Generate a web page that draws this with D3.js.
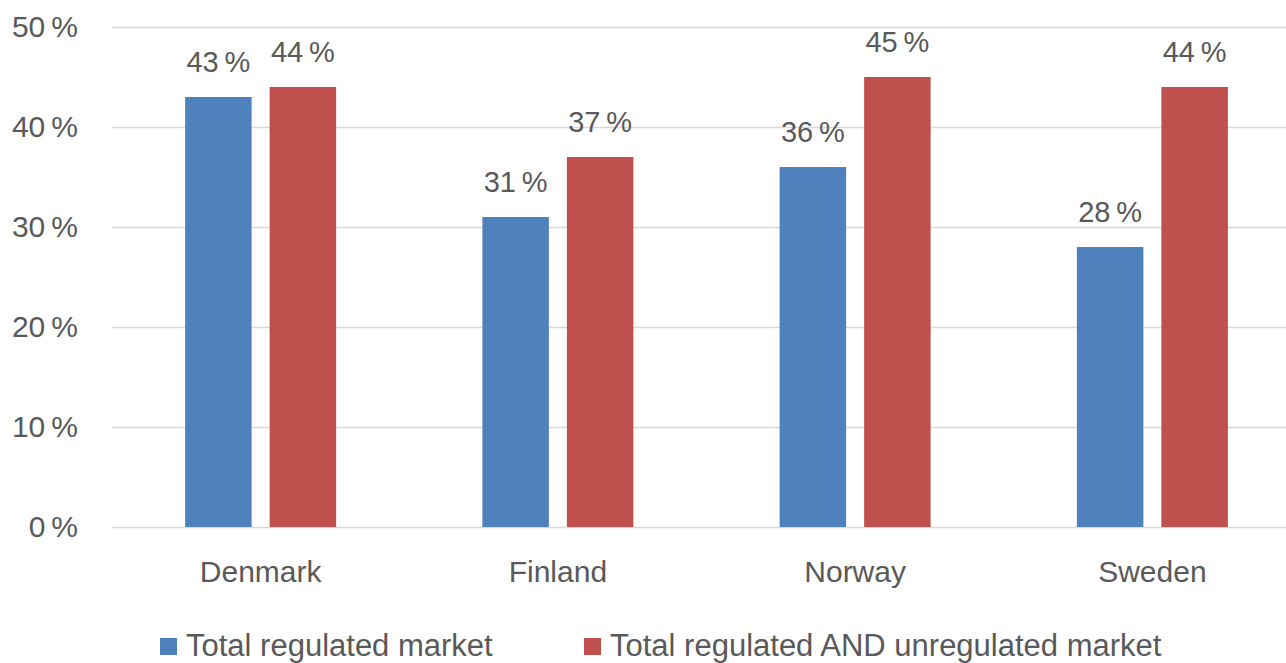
<!DOCTYPE html>
<html>
<head>
<meta charset="utf-8">
<script src="https://cdn.jsdelivr.net/npm/d3@7"></script>
<style>
  body { margin: 0; background: #fff; }
  text { font-family: "Liberation Sans", Arial, sans-serif; fill: #595959; }
</style>
</head>
<body>
<script>
const categories = ['Denmark', 'Finland', 'Norway', 'Sweden'];
const seriesNames = ['Total regulated market', 'Total regulated AND unregulated market'];
const regulated = [43, 31, 36, 28];
const regulatedAndUnregulated = [44, 37, 45, 44];
const yTicks = [0, 10, 20, 30, 40, 50];
const colors = ['#4f81bd', '#c0504d'];

const svgWidth = 1286;
const svgHeight = 663;
const margin = { top: 27, bottom: 136, left: 112, right: -15 };
const height = svgHeight - margin.top - margin.bottom;
const width = svgWidth - margin.left - margin.right;

const svg = d3.select('body')
    .append('svg')
    .attr('width', svgWidth)
    .attr('height', svgHeight);

const g = svg.append('g')
    .attr('transform', `translate(${margin.left}, ${margin.top})`);

const x0 = d3.scaleBand()
    .domain(categories)
    .range([0, width])
    .padding(0);

const x1 = d3.scaleBand()
    .domain(seriesNames)
    .range([x0.bandwidth() * 0.246, x0.bandwidth() * 0.754])
    .paddingInner(0.213);

const y = d3.scaleLinear()
    .domain([0, 50])
    .range([height, 0]);

// gridlines
g.append('g')
    .call(d3.axisLeft(y).tickValues(yTicks).tickSize(-width).tickFormat(''))
    .call(a => a.select('.domain').remove())
    .selectAll('line')
    .attr('stroke', '#d9d9d9')
    .attr('stroke-width', 1.5);

// y tick labels
g.append('g')
    .call(d3.axisLeft(y).tickValues(yTicks).tickSize(0).tickPadding(34).tickFormat(d => d + '\u2009%'))
    .call(a => a.select('.domain').remove())
    .selectAll('text')
    .style('font-size', '30px')
    .attr('fill', '#595959');

const rows = categories.map((c, i) => ({ cat: c, vals: [regulated[i], regulatedAndUnregulated[i]] }));

const groups = g.selectAll('.grp')
    .data(rows)
    .enter()
    .append('g')
    .attr('class', 'grp')
    .attr('transform', d => `translate(${x0(d.cat)},0)`);

groups.selectAll('rect')
    .data(d => d.vals.map((v, j) => ({ s: seriesNames[j], v, j })))
    .enter()
    .append('rect')
    .attr('x', d => x1(d.s))
    .attr('y', d => y(d.v))
    .attr('width', x1.bandwidth())
    .attr('height', d => height - y(d.v))
    .attr('fill', d => colors[d.j]);

groups.selectAll('.lbl')
    .data(d => d.vals.map((v, j) => ({ s: seriesNames[j], v, j })))
    .enter()
    .append('text')
    .attr('class', 'lbl')
    .attr('x', d => x1(d.s) + x1.bandwidth() / 2)
    .attr('y', d => y(d.v) - 25)
    .attr('text-anchor', 'middle')
    .style('font-size', '29px')
    .text(d => d.v + '\u2009%');

// category axis labels
g.append('g')
    .attr('transform', `translate(0,${height})`)
    .call(d3.axisBottom(x0).tickSize(0).tickPadding(34))
    .call(a => a.select('.domain').remove())
    .selectAll('text')
    .style('font-size', '30px')
    .attr('fill', '#595959');

// legend
const legendX = [160, 584];
const legend = svg.append('g');
seriesNames.forEach((name, i) => {
    legend.append('rect')
        .attr('x', legendX[i])
        .attr('y', 638)
        .attr('width', 17)
        .attr('height', 17)
        .attr('fill', colors[i]);
    legend.append('text')
        .attr('x', legendX[i] + 26)
        .attr('y', 656)
        .style('font-size', '31px')
        .text(name);
});
</script>
</body>
</html>
